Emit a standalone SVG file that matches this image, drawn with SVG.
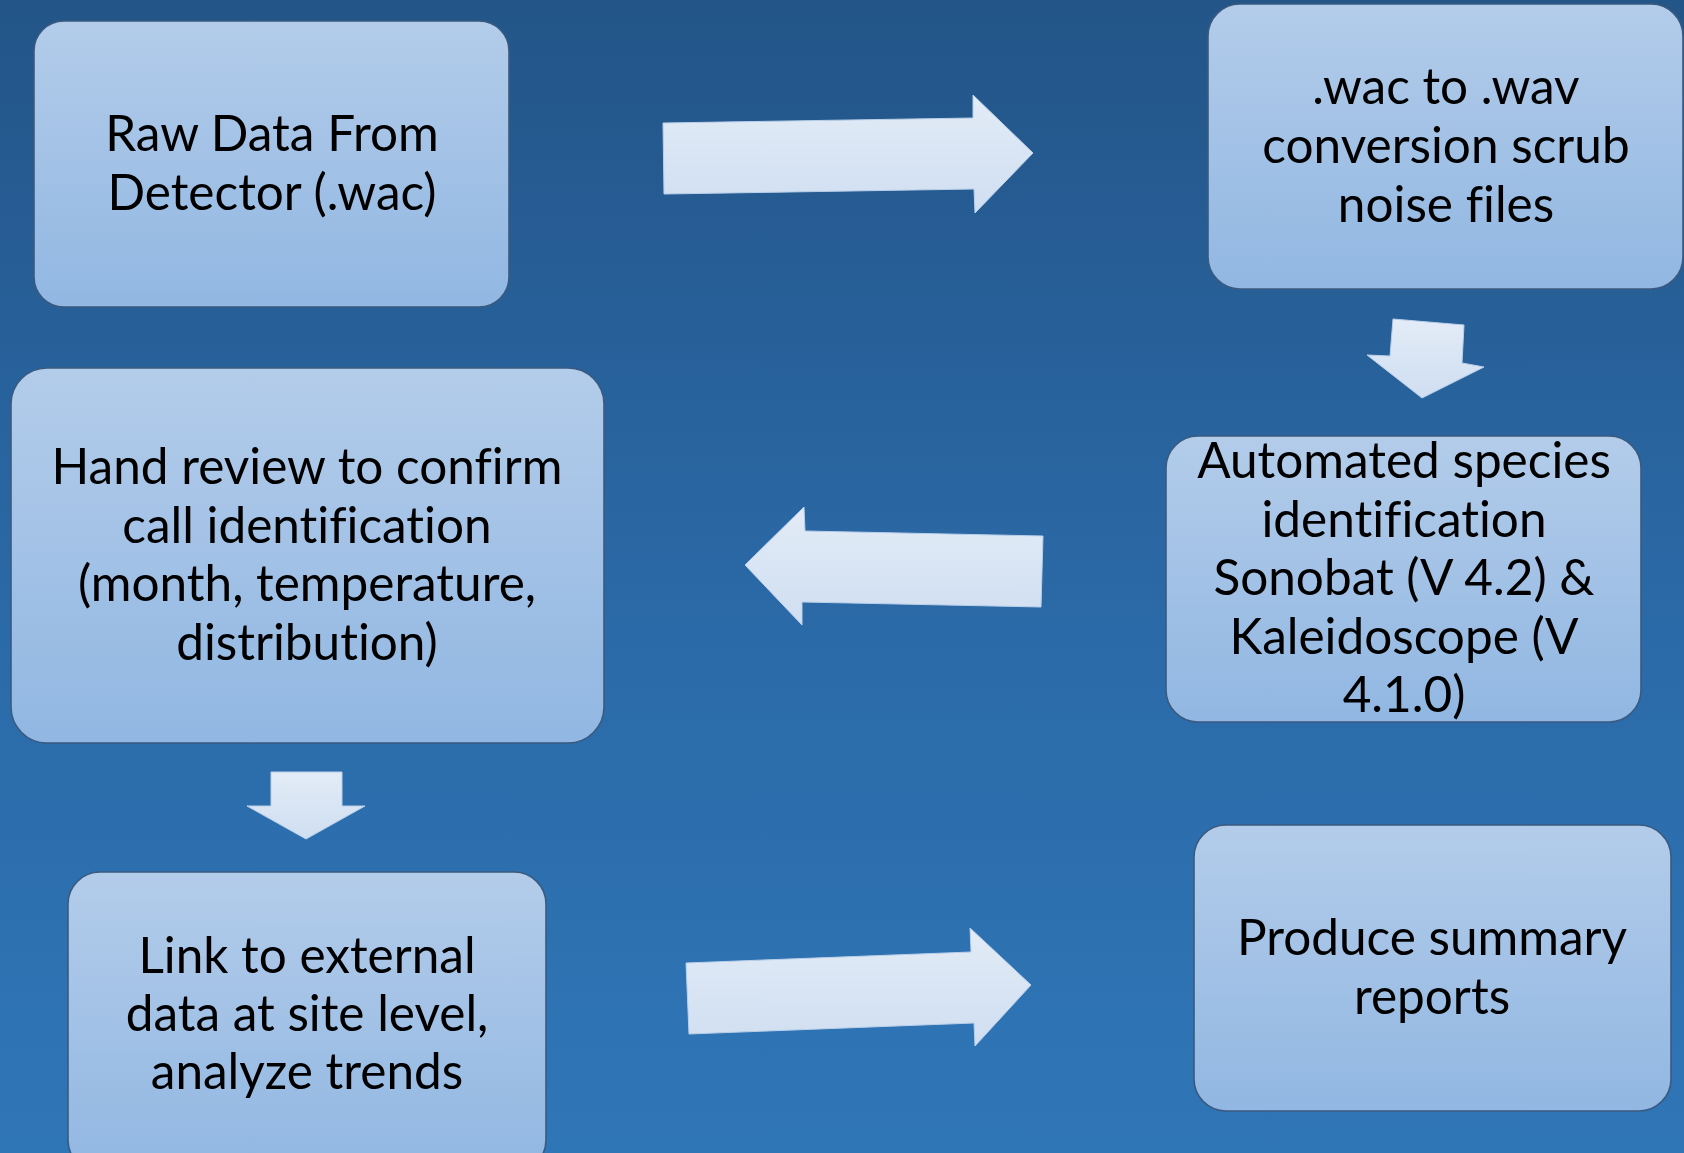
<svg xmlns="http://www.w3.org/2000/svg" width="1684" height="1153" viewBox="0 0 1684 1153">
  <defs>
    <linearGradient id="bg" x1="0" y1="0" x2="0" y2="1">
      <stop offset="0" stop-color="#235588"/>
      <stop offset="0.55" stop-color="#2b6aa8"/>
      <stop offset="1" stop-color="#2f76b7"/>
    </linearGradient>
    <linearGradient id="boxFill" x1="0" y1="0" x2="0" y2="1">
      <stop offset="0" stop-color="#b3ccea"/>
      <stop offset="1" stop-color="#91b7e2"/>
    </linearGradient>
    <linearGradient id="arrowFill" x1="0" y1="0" x2="0" y2="1">
      <stop offset="0" stop-color="#e3ecf7"/>
      <stop offset="1" stop-color="#cfdef1"/>
    </linearGradient>
    <style>
      .box { fill: url(#boxFill); stroke: #3a5a80; stroke-width: 1.6; }
      .arrow { fill: url(#arrowFill); stroke: #b9cfe9; stroke-width: 1; stroke-linejoin: miter; }
      .label { font-family: Lato, "Open Sans", "Liberation Sans", sans-serif; font-size: 49.5px; fill: #000000; text-anchor: middle; font-variant-ligatures: none; }
    </style>
  </defs>

  <rect x="0" y="0" width="1684" height="1153" fill="url(#bg)"/>

  <g id="node-raw">
    <rect class="box" x="34" y="21" width="475" height="286" rx="30" ry="30"/>
    <text class="label"><tspan x="272" y="151">Raw Data From</tspan><tspan x="272" y="210">Detector (.wac)</tspan></text>
  </g>

  <g id="node-convert">
    <rect class="box" x="1208" y="4" width="475" height="285" rx="32" ry="32"/>
    <text class="label"><tspan x="1446" y="104">.wac to .wav</tspan><tspan x="1446" y="163">conversion scrub</tspan><tspan x="1446" y="222">noise files</tspan></text>
  </g>

  <g id="node-auto">
    <rect class="box" x="1166" y="436" width="475" height="286" rx="32" ry="32"/>
    <text class="label"><tspan x="1404" y="478">Automated species</tspan><tspan x="1404" y="537">identification</tspan><tspan x="1404" y="595">Sonobat (V 4.2) &amp;</tspan><tspan x="1404" y="654">Kaleidoscope (V</tspan><tspan x="1404" y="712">4.1.0)</tspan></text>
  </g>

  <g id="node-hand">
    <rect class="box" x="11" y="368" width="593" height="375" rx="36" ry="36"/>
    <text class="label"><tspan x="307" y="484">Hand review to confirm</tspan><tspan x="307" y="543">call identification</tspan><tspan x="307" y="601">(month, temperature,</tspan><tspan x="307" y="660">distribution)</tspan></text>
  </g>

  <g id="node-link">
    <rect class="box" x="68" y="872" width="478" height="300" rx="32" ry="32"/>
    <text class="label"><tspan x="307" y="973">Link to external</tspan><tspan x="307" y="1031">data at site level,</tspan><tspan x="307" y="1089">analyze trends</tspan></text>
  </g>

  <g id="node-report">
    <rect class="box" x="1194" y="825" width="477" height="286" rx="32" ry="32"/>
    <text class="label"><tspan x="1432" y="955">Produce summary</tspan><tspan x="1432" y="1014">reports</tspan></text>
  </g>

  <g id="connectors">
    <polygon class="arrow" points="663,123 973,118 973,95 1033,153 975,213 974,189 664,194"/>
    <polygon class="arrow" points="1393,319 1464,325 1462,363 1484,367 1422,398 1367,355 1390,356"/>
    <polygon class="arrow" points="1043,536 1041,607 802,602 802,625 745,565 804,507 805,531"/>
    <polygon class="arrow" points="271,772 342,772 342,806 365,806 306,839 247,806 271,806"/>
    <polygon class="arrow" points="686,963 971,952 970,928 1031,985 975,1046 974,1023 689,1034"/>
  </g>
</svg>
